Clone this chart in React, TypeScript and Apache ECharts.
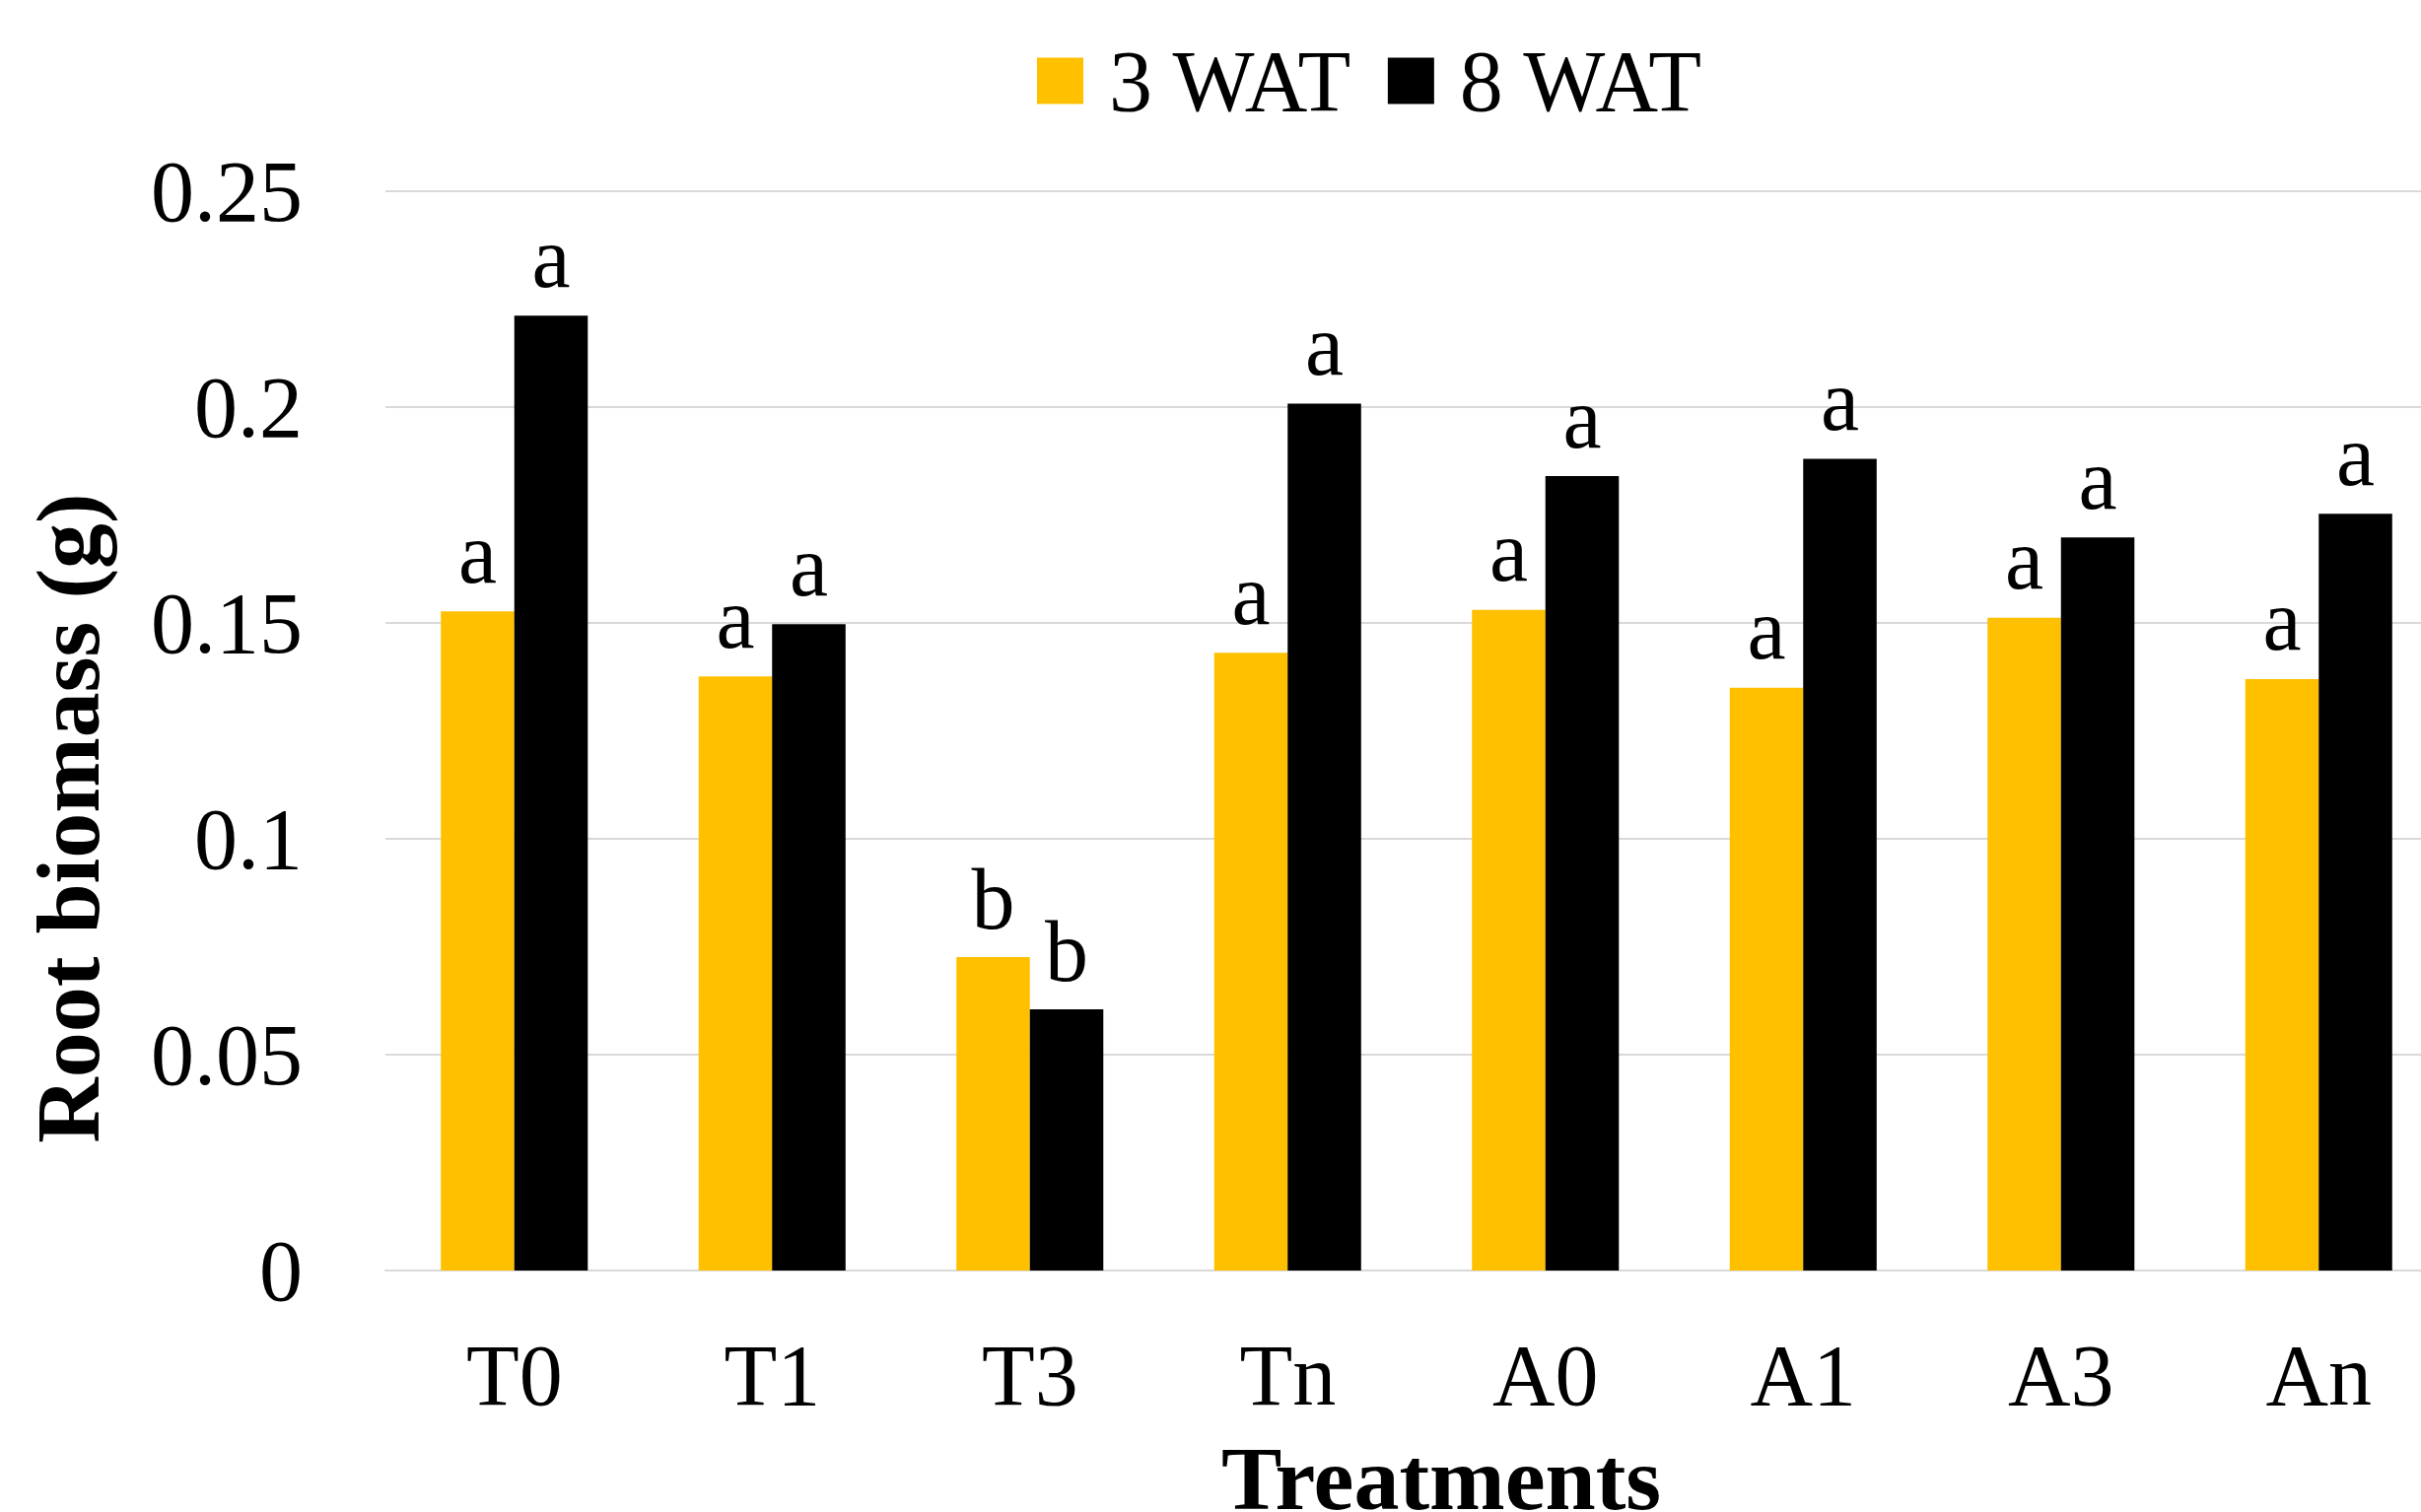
import React, { useEffect, useRef } from "react";
import * as echarts from "echarts";

const categories = ["T0", "T1", "T3", "Tn", "A0", "A1", "A3", "An"];
const seriesNames = ["3 WAT", "8 WAT"];
const wat3 = [0.1527, 0.1376, 0.0726, 0.1431, 0.153, 0.135, 0.1512, 0.137];
const wat8 = [0.2212, 0.1497, 0.0605, 0.2008, 0.184, 0.188, 0.1698, 0.1753];
const letters3 = ["a", "a", "b", "a", "a", "a", "a", "a"];
const letters8 = ["a", "a", "b", "a", "a", "a", "a", "a"];
const yTicks = { min: 0, max: 0.25, interval: 0.05 };
const xTitle = "Treatments";
const yTitle = "Root biomass (g)";

const FONT = "'Liberation Serif', 'DejaVu Serif', serif";

export default function App() {
  const ref = useRef<HTMLDivElement>(null);
  useEffect(() => {
    if (!ref.current) return;
    const chart = echarts.init(ref.current, null, { renderer: "svg" });
    const labelStyle = {
      show: true,
      position: "top",
      distance: 15,
      fontFamily: FONT,
      fontSize: 88,
      color: "#000",
    };
    chart.setOption({
      animation: false,
      backgroundColor: "#fff",
      grid: { left: 391, right: 0, top: 194, bottom: 245, containLabel: false },
      legend: {
        left: 1052,
        top: 38,
        padding: 0,
        itemWidth: 47,
        itemHeight: 47,
        itemGap: 36,
        icon: "rect",
        textStyle: { fontFamily: FONT, fontSize: 88, color: "#000", padding: [0, 0, 0, 21] },
        data: seriesNames,
      },
      xAxis: {
        type: "category",
        data: categories,
        axisTick: { show: false },
        axisLine: { show: true, lineStyle: { color: "#d9d9d9", width: 2 } },
        axisLabel: { fontFamily: FONT, fontSize: 88, color: "#000", margin: 62 },
      },
      yAxis: {
        type: "value",
        min: yTicks.min,
        max: yTicks.max,
        interval: yTicks.interval,
        axisLine: { show: false },
        axisTick: { show: false },
        splitLine: { lineStyle: { color: "#d9d9d9", width: 2 } },
        axisLabel: {
          fontFamily: FONT,
          fontSize: 88,
          color: "#000",
          margin: 84,
          formatter: (v: number) => String(parseFloat(v.toFixed(2))),
        },
      },
      series: [
        {
          name: seriesNames[0],
          type: "bar",
          data: wat3,
          itemStyle: { color: "#FFC000" },
          barGap: "0%",
          barCategoryGap: "43%",
          label: { ...labelStyle, formatter: (p: any) => letters3[p.dataIndex] },
        },
        {
          name: seriesNames[1],
          type: "bar",
          data: wat8,
          itemStyle: { color: "#000000" },
          barGap: "0%",
          barCategoryGap: "43%",
          label: { ...labelStyle, formatter: (p: any) => letters8[p.dataIndex] },
        },
      ],
      graphic: [
        {
          type: "text",
          x: 1462,
          y: 1500,
          style: {
            text: xTitle,
            fontFamily: FONT,
            fontSize: 92,
            fontWeight: "bold",
            fill: "#000",
            textAlign: "center",
            textVerticalAlign: "middle",
          },
        },
        {
          type: "text",
          x: 69,
          y: 830,
          rotation: Math.PI / 2,
          style: {
            text: yTitle,
            fontFamily: FONT,
            fontSize: 92,
            fontWeight: "bold",
            fill: "#000",
            textAlign: "center",
            textVerticalAlign: "middle",
          },
        },
      ],
    });
    return () => chart.dispose();
  }, []);
  return (
    <div
      style={{
        position: "absolute",
        left: 0,
        top: 0,
        width: 2456,
        height: 1534,
        overflow: "hidden",
      }}
    >
      <div ref={ref} style={{ width: 2483, height: 1534 }} />
    </div>
  );
}
